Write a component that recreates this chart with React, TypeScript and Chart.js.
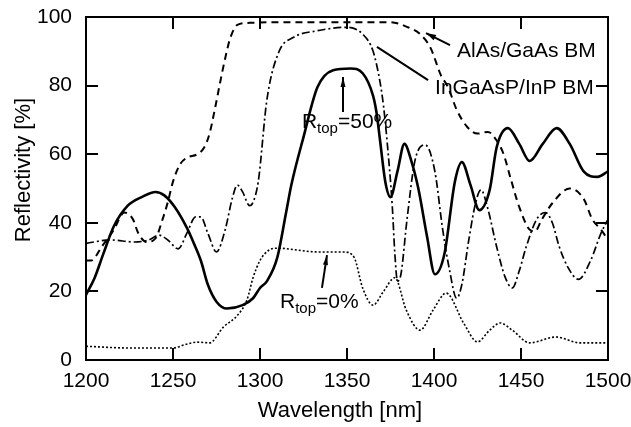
import { useEffect, useRef } from 'react';
import { Chart, registerables } from 'chart.js';

Chart.register(...registerables);

const FONT = '"Liberation Sans", Arial, Helvetica, sans-serif';

const xTickValues = [1200, 1250, 1300, 1350, 1400, 1450, 1500];
const yTickValues = [0, 20, 40, 60, 80, 100];

// Rtop = 50% (solid)
const r50Wavelength = [1200, 1205, 1210, 1216, 1224, 1232, 1240, 1245, 1251, 1258, 1262, 1266, 1270, 1275, 1281, 1290, 1296, 1300, 1304, 1310, 1315, 1318, 1325, 1333, 1342, 1352, 1359, 1365, 1367, 1369, 1372, 1375, 1379, 1383, 1387, 1391, 1396, 1400.5, 1406, 1412, 1416, 1421, 1426, 1432, 1436, 1442.5, 1449, 1455, 1462.5, 1470.5, 1478, 1486, 1494, 1500];
const r50Reflectivity = [19, 24, 31, 39, 45, 47.5, 49, 48, 44.6, 38.5, 34, 29, 22, 17, 15, 16, 18, 21, 23, 30, 43, 51, 65, 79.5, 84.5, 85, 83.6, 77, 72, 64, 52, 47.5, 55, 63, 58, 50, 36, 25, 31, 52, 57.7, 51, 43.7, 49.6, 62, 67.6, 63, 58, 63, 67.6, 63, 55, 53.4, 55];

// AlAs/GaAs BM (dashed)
const alasWavelength = [1200, 1203, 1209, 1216, 1222, 1227, 1230, 1235, 1240, 1244, 1247, 1250, 1254, 1258, 1264, 1268, 1271, 1274, 1277, 1280, 1283, 1287, 1294, 1320, 1350, 1375, 1385, 1392, 1398, 1404, 1408, 1413, 1419, 1425, 1431, 1436, 1440, 1444, 1449, 1455, 1458, 1462, 1468, 1478, 1486, 1491, 1496, 1500];
const alasReflectivity = [29, 29, 33, 38, 43, 41, 37, 34.4, 35.5, 41, 46, 52, 57, 59, 60, 62, 66, 73, 80.7, 88, 94, 97.7, 98.3, 98.5, 98.5, 98.5, 97, 95, 91, 83, 79.6, 73, 68, 66, 66.5, 64, 60, 53, 44.6, 38, 37.5, 41, 45.7, 50, 47, 41, 38, 35];

// InGaAsP/InP BM (dash-dot)
const ingaWavelength = [1200, 1214, 1228, 1236, 1242, 1247, 1253, 1258, 1263, 1266, 1270, 1275, 1280, 1284, 1287, 1290, 1294, 1296, 1299, 1304, 1311, 1319, 1333, 1350, 1359, 1365, 1369, 1371, 1373, 1376, 1377.5, 1379, 1381, 1384.5, 1389, 1395, 1400.5, 1405, 1409, 1413, 1416, 1420, 1424, 1427, 1431, 1436, 1441, 1445, 1449, 1453, 1459, 1464, 1468, 1472, 1477, 1483, 1490, 1496, 1500];
const ingaReflectivity = [34, 35, 34.4, 35, 36.4, 35, 32.4, 37, 41.7, 41.7, 37, 31.5, 38, 47, 51, 49, 45, 46, 52, 76, 90, 94, 96, 97, 95, 90, 81, 74, 64, 45, 31, 23, 25, 41, 58, 62.7, 55, 38, 26, 18, 22, 35, 46, 49.6, 44, 33, 24, 21, 26, 33, 41, 43, 40, 33, 27, 23.5, 29, 37, 41];

// Rtop = 0% (dotted)
const r0Wavelength = [1200, 1225, 1250, 1257, 1264, 1271, 1279, 1287, 1292.5, 1296, 1300, 1305, 1310, 1333, 1348, 1354, 1359, 1365, 1371, 1377.5, 1384, 1392, 1399.5, 1407, 1417, 1425, 1432, 1438, 1445, 1455, 1470, 1484, 1500];
const r0Reflectivity = [4, 3.5, 3.5, 4.5, 5.2, 5, 9.6, 13, 17.5, 24, 29, 32, 32.6, 31.5, 31.5, 30, 21, 16, 20, 24, 14.6, 8.7, 14.6, 19.5, 10.8, 5.3, 8.7, 10.8, 8.7, 5, 6.7, 5, 5];

const pts = (xs: number[], ys: number[]) => xs.map((x, i) => ({ x, y: ys[i] }));

const overlay = {
  id: 'overlay',
  afterDraw(chart: any) {
    const { ctx, chartArea: a, scales } = chart;
    const xs = scales.x;
    const ys = scales.y;
    const px = (v: number) => xs.getPixelForValue(v);
    const py = (v: number) => ys.getPixelForValue(v);
    ctx.save();
    ctx.strokeStyle = '#000';
    ctx.fillStyle = '#000';
    ctx.lineWidth = 2;
    ctx.strokeRect(a.left, a.top, a.right - a.left, a.bottom - a.top);
    const tl = 12;
    ctx.beginPath();
    xTickValues.slice(1, -1).forEach((v) => {
      const x = Math.round(px(v));
      ctx.moveTo(x, a.bottom);
      ctx.lineTo(x, a.bottom - tl);
      ctx.moveTo(x, a.top);
      ctx.lineTo(x, a.top + tl);
    });
    yTickValues.slice(1, -1).forEach((v) => {
      const y = Math.round(py(v));
      ctx.moveTo(a.left, y);
      ctx.lineTo(a.left + tl, y);
      ctx.moveTo(a.right, y);
      ctx.lineTo(a.right - tl, y);
    });
    ctx.stroke();

    const arrow = (x1: number, y1: number, x2: number, y2: number, head: number, w: number) => {
      const X1 = px(x1), Y1 = py(y1), X2 = px(x2), Y2 = py(y2);
      ctx.lineWidth = 2;
      ctx.beginPath();
      ctx.moveTo(X1, Y1);
      ctx.lineTo(X2, Y2);
      ctx.stroke();
      if (head > 0) {
        const ang = Math.atan2(Y2 - Y1, X2 - X1);
        ctx.beginPath();
        ctx.moveTo(X2, Y2);
        ctx.lineTo(X2 - head * Math.cos(ang) + w * Math.sin(ang), Y2 - head * Math.sin(ang) - w * Math.cos(ang));
        ctx.lineTo(X2 - head * Math.cos(ang) - w * Math.sin(ang), Y2 - head * Math.sin(ang) + w * Math.cos(ang));
        ctx.closePath();
        ctx.fill();
      }
    };

    const rLabel = (xv: number, yv: number, tail: string) => {
      let x = px(xv);
      const y = py(yv);
      ctx.textAlign = 'left';
      ctx.textBaseline = 'alphabetic';
      ctx.font = `21px ${FONT}`;
      ctx.fillText('R', x, y);
      x += ctx.measureText('R').width;
      ctx.font = `15px ${FONT}`;
      ctx.fillText('top', x, y + 5);
      x += ctx.measureText('top').width;
      ctx.font = `21px ${FONT}`;
      ctx.fillText(tail, x, y);
    };

    rLabel(1324.1, 67.6, '=50%');
    arrow(1347.7, 72.3, 1347.7, 82.5, 10, 2.5);
    rLabel(1311.5, 15.2, '=0%');
    arrow(1335.6, 21, 1338.5, 30.6, 10, 2.5);

    ctx.font = `21px ${FONT}`;
    ctx.textAlign = 'left';
    ctx.textBaseline = 'alphabetic';
    ctx.fillText('AlAs/GaAs BM', px(1413.2), py(88.3));
    arrow(1409.2, 91.8, 1395.4, 95.3, 10, 3);
    ctx.fillText('InGaAsP/InP BM', px(1400.6), py(77.6));
    arrow(1396.6, 81.6, 1367.2, 91.3, 0, 0);

    // axis titles
    ctx.font = `22px ${FONT}`;
    ctx.textAlign = 'center';
    ctx.fillText('Wavelength [nm]', (a.left + a.right) / 2 - 7, 417);
    ctx.save();
    ctx.translate(30, 170);
    ctx.rotate(-Math.PI / 2);
    ctx.fillText('Reflectivity [%]', 0, 0);
    ctx.restore();
    ctx.restore();
  },
};

export default function App() {
  const ref = useRef<HTMLCanvasElement | null>(null);
  useEffect(() => {
    document.body.style.margin = '0';
    const canvas = ref.current;
    if (!canvas) return;
    const line = (xs: number[], ys: number[], width: number, dash: number[]) => ({
      data: pts(xs, ys),
      borderColor: '#000',
      borderWidth: width,
      borderDash: dash,
      pointRadius: 0,
      fill: false,
      cubicInterpolationMode: 'monotone' as const,
    });
    const chart = new Chart(canvas, {
      type: 'line',
      data: {
        datasets: [
          { label: 'Rtop=50%', ...line(r50Wavelength, r50Reflectivity, 2.6, []) },
          { label: 'AlAs/GaAs BM', ...line(alasWavelength, alasReflectivity, 2, [7, 5]) },
          { label: 'InGaAsP/InP BM', ...line(ingaWavelength, ingaReflectivity, 1.7, [8, 3, 2, 3]) },
          { label: 'Rtop=0%', ...line(r0Wavelength, r0Reflectivity, 1.6, [2, 2]) },
        ],
      },
      options: {
        responsive: false,
        animation: false,
        layout: { padding: { left: 0, right: 23, top: 17, bottom: 0 } },
        plugins: { legend: { display: false }, tooltip: { enabled: false } },
        scales: {
          x: {
            type: 'linear',
            min: 1200,
            max: 1500,
            afterBuildTicks: (s: any) => { s.ticks = xTickValues.map((v) => ({ value: v })); },
            ticks: { color: '#000', font: { size: 21, family: FONT }, padding: 9, maxRotation: 0, autoSkip: false, callback: (v: any) => String(v) },
            grid: { display: false, drawTicks: false },
            border: { display: false },
            afterFit: (s: any) => { s.height = 67; s.paddingLeft = 0; s.paddingRight = 0; },
          },
          y: {
            min: 0,
            max: 100,
            afterBuildTicks: (s: any) => { s.ticks = yTickValues.map((v) => ({ value: v })); },
            ticks: { color: '#000', font: { size: 21, family: FONT }, padding: 14, callback: (v: any) => String(v) },
            grid: { display: false, drawTicks: false },
            border: { display: false },
            afterFit: (s: any) => { s.width = 86; s.paddingTop = 0; s.paddingBottom = 0; },
          },
        },
      },
      plugins: [overlay],
    });
    return () => chart.destroy();
  }, []);
  return <canvas ref={ref} width={631} height={427} style={{ display: 'block' }} />;
}
